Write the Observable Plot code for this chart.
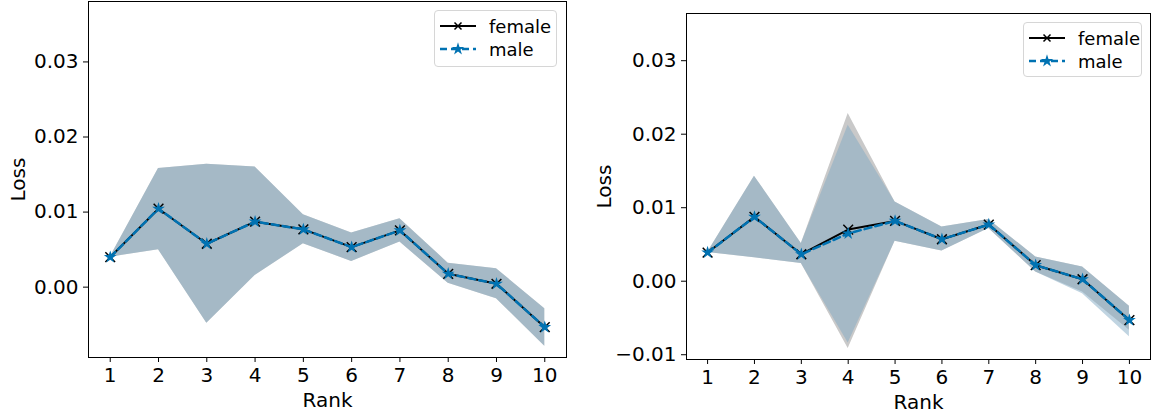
<!DOCTYPE html>
<html><head><meta charset="utf-8">
<script src="https://cdn.jsdelivr.net/npm/d3@7"></script>
<script src="https://cdn.jsdelivr.net/npm/@observablehq/plot@0.6"></script>
<style>
body{margin:0;background:#fff;font-family:"DejaVu Sans",sans-serif;}
#wrap{position:relative;width:1151px;height:415px;overflow:hidden;}
.panel{position:absolute;top:0;}
.legend{position:absolute;border:1px solid #d6d6d6;border-radius:4px;background:rgba(255,255,255,0.85);font-size:18px;color:#000;box-sizing:border-box;}
.row{position:absolute;left:5px;display:flex;align-items:center;height:22px;}
.row span{margin-left:13px;}
</style></head><body><div id="wrap"></div>
<script>
const ranks = [1,2,3,4,5,6,7,8,9,10];
const xTicks = [1,2,3,4,5,6,7,8,9,10];

// Left panel
const leftFemale = [0.0040, 0.01045, 0.00578, 0.00872, 0.0077, 0.00533, 0.00756, 0.00178, 0.00045, -0.00533];
const leftMale   = [0.0040, 0.01045, 0.00578, 0.00872, 0.0077, 0.00533, 0.00756, 0.00178, 0.00045, -0.00533];
const leftFemaleLow  = [0.0040, 0.00498, -0.0048, 0.00156, 0.00578, 0.00343, 0.0060, 0.00053, -0.00155, -0.00787];
const leftFemaleHigh = [0.0040, 0.01579, 0.01636, 0.0160, 0.00965, 0.0072, 0.00912, 0.0032, 0.00245, -0.00288];
const leftMaleLow    = [0.0040, 0.00498, -0.0048, 0.00156, 0.00578, 0.00343, 0.0060, 0.00053, -0.00155, -0.00787];
const leftMaleHigh   = [0.0040, 0.01579, 0.01636, 0.0160, 0.00965, 0.0072, 0.00912, 0.0032, 0.00245, -0.00288];
const leftYTicks = [0, 0.01, 0.02, 0.03];

// Right panel
const rightFemale = [0.0039, 0.00875, 0.00367, 0.00703, 0.0082, 0.00571, 0.00771, 0.00218, 0.00027, -0.0053];
const rightMale   = [0.0039, 0.00875, 0.00367, 0.00649, 0.0082, 0.00571, 0.00771, 0.00218, 0.00027, -0.0053];
const rightFemaleLow  = [0.0039, 0.0032, 0.0024, -0.00916, 0.00544, 0.00412, 0.00717, 0.00127, -0.00146, -0.00667];
const rightFemaleHigh = [0.0039, 0.01429, 0.00513, 0.02282, 0.01079, 0.00739, 0.00839, 0.00331, 0.00195, -0.0034];
const rightMaleLow    = [0.0039, 0.0032, 0.0024, -0.0084, 0.00544, 0.00412, 0.00717, 0.00127, -0.0017, -0.00757];
const rightMaleHigh   = [0.0039, 0.01429, 0.00513, 0.02122, 0.01079, 0.00739, 0.00839, 0.00331, 0.00195, -0.0034];
const rightYTicks = [-0.01, 0, 0.01, 0.02, 0.03];

const seriesNames = ["female", "male"];
const femaleColor = "#000000";
const maleColor = "#0072b2";

function rows(f, m, fl, fh, ml, mh) {
  return ranks.map((r, i) => ({rank: r, female: f[i], male: m[i], fLow: fl[i], fHigh: fh[i], mLow: ml[i], mHigh: mh[i]}));
}

function panel(data, cfg) {
  return Plot.plot({
    width: cfg.width, height: 415,
    marginLeft: cfg.ml, marginRight: cfg.mr, marginTop: cfg.mt, marginBottom: cfg.mb,
    style: {fontFamily: "DejaVu Sans", fontSize: "20px", color: "#000", background: "transparent"},
    x: {type: "linear", domain: [0.55, 10.45]},
    y: {type: "linear", domain: cfg.yDomain},
    marks: [
      Plot.areaY(data, {x: "rank", y1: "fLow", y2: "fHigh", fill: "#c9c9c9"}),
      Plot.areaY(data, {x: "rank", y1: "mLow", y2: "mHigh", fill: "rgb(129,169,195)", fillOpacity: 0.5}),
      Plot.lineY(data, {x: "rank", y: "female", stroke: femaleColor, strokeWidth: 2}),
      Plot.dot(data, {x: "rank", y: "female", symbol: "times", stroke: femaleColor, r: 4.5, strokeWidth: 1.5}),
      Plot.lineY(data, {x: "rank", y: "male", stroke: maleColor, strokeWidth: 2.5, strokeDasharray: "7,4"}),
      Plot.dot(data, {x: "rank", y: "male", symbol: "star", fill: maleColor, r: 4}),
      Plot.frame({stroke: "#000", strokeWidth: 1}),
      Plot.axisX({ticks: xTicks, tickFormat: d => String(d), tickSize: 5, tickPadding: 5,
        label: "Rank", labelAnchor: "center", labelArrow: "none", labelOffset: cfg.xLabelOffset}),
      Plot.axisY({ticks: cfg.yTicks, tickFormat: d3.format(".2f"), tickSize: 5, tickPadding: 5,
        label: "Loss", labelAnchor: "center", labelArrow: "none", labelOffset: cfg.yLabelOffset})
    ]
  });
}

function legend(left, top, w, h) {
  const d = document.createElement("div");
  d.className = "legend";
  d.style.left = left + "px"; d.style.top = top + "px";
  d.style.width = w + "px"; d.style.height = h + "px";
  const sw = [
    `<svg width="36" height="20"><line x1="0" y1="10" x2="36" y2="10" stroke="${femaleColor}" stroke-width="2"/><path d="M14.5,6.5L21.5,13.5M21.5,6.5L14.5,13.5" stroke="${femaleColor}" stroke-width="1.5"/></svg>`,
    `<svg width="36" height="20"><line x1="0" y1="10" x2="36" y2="10" stroke="${maleColor}" stroke-width="2.5" stroke-dasharray="7,4"/><path transform="translate(18,10)" d="${d3.symbol(d3.symbolStar, 50)()}" fill="${maleColor}"/></svg>`
  ];
  seriesNames.forEach((n, i) => {
    const r = document.createElement("div");
    r.className = "row";
    r.style.top = (4 + i * 23) + "px";
    r.innerHTML = sw[i] + `<span>${n}</span>`;
    d.appendChild(r);
  });
  return d;
}

const wrap = document.getElementById("wrap");
const p1 = document.createElement("div"); p1.className = "panel"; p1.style.left = "0px";
p1.appendChild(panel(rows(leftFemale, leftMale, leftFemaleLow, leftFemaleHigh, leftMaleLow, leftMaleHigh),
  {width: 580, ml: 88, mr: 14, mt: 1, mb: 58, yDomain: [-0.00937, 0.03805], yTicks: leftYTicks, xLabelOffset: 49, yLabelOffset: 78}));
wrap.appendChild(p1);
const p2 = document.createElement("div"); p2.className = "panel"; p2.style.left = "580px";
p2.appendChild(panel(rows(rightFemale, rightMale, rightFemaleLow, rightFemaleHigh, rightMaleLow, rightMaleHigh),
  {width: 571, ml: 106, mr: 1, mt: 13, mb: 56, yDomain: [-0.01065, 0.03642], yTicks: rightYTicks, xLabelOffset: 49, yLabelOffset: 90}));
wrap.appendChild(p2);
wrap.appendChild(legend(434, 10, 123, 57));
wrap.appendChild(legend(1023, 22, 119, 55));
</script></body></html>
